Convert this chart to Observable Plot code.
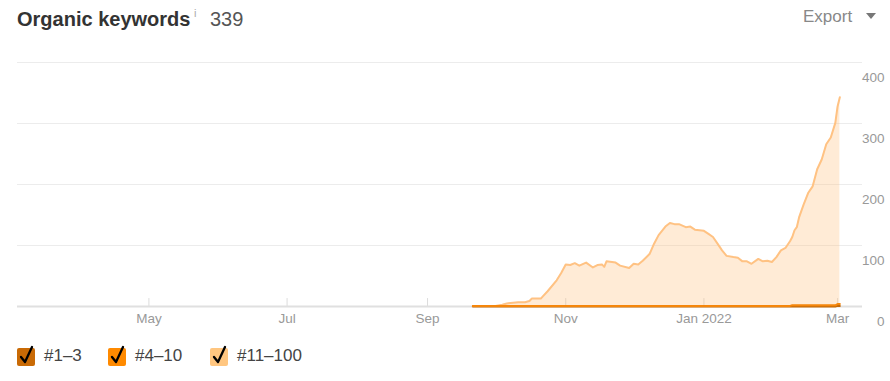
<!DOCTYPE html>
<html>
<head>
<meta charset="utf-8">
<script src="https://cdn.jsdelivr.net/npm/d3@7"></script>
<script src="https://cdn.jsdelivr.net/npm/@observablehq/plot@0.6"></script>
<style>
  html, body { margin: 0; padding: 0; background: #fff; width: 890px; height: 381px; overflow: hidden; }
  body { font-family: "Liberation Sans", Arial, sans-serif; position: relative; }
  .abs { position: absolute; white-space: nowrap; }
  #title { left: 17px; top: 9px; font-size: 20px; line-height: 20px; font-weight: bold; color: #333; }
  #info { left: 194px; top: 8px; font-size: 11px; line-height: 11px; color: #aaa; }
  #count { left: 210px; top: 9px; font-size: 20px; line-height: 20px; color: #555; }
  #export { left: 803px; top: 8px; font-size: 17px; line-height: 17px; color: #888; }
  #tri { left: 866px; top: 13px; width: 0; height: 0; border-left: 5px solid transparent; border-right: 5px solid transparent; border-top: 6px solid #777; }
  #chart { left: 0; top: 45px; }
  .box { position: absolute; width: 18px; height: 18px; border-radius: 2px; top: 348px; }
  .box svg { position: absolute; left: 0; top: -3px; overflow: visible; }
  .lab { position: absolute; top: 347px; font-size: 17px; line-height: 17px; color: #444; white-space: nowrap; }
</style>
</head>
<body>
<div id="title" class="abs">Organic keywords</div>
<div id="info" class="abs">i</div>
<div id="count" class="abs">339</div>
<div id="export" class="abs">Export</div>
<div id="tri" class="abs"></div>
<div id="chart" class="abs"></div>
<div id="legend"></div>
<script>
// ---- data ----
const seriesNames = ["#1–3", "#4–10", "#11–100"];
const lineColors = ["#c46a08", "#f5860b", "#ffc283"];
const legendColors = ["#c96a05", "#ff8a00", "#ffc680"];

const dates = [
  "2021-09-21","2021-10-01","2021-10-04","2021-10-06","2021-10-11","2021-10-14","2021-10-16","2021-10-17","2021-10-21","2021-10-22",
  "2021-10-24","2021-10-28","2021-10-30","2021-11-01","2021-11-03","2021-11-05","2021-11-07","2021-11-10","2021-11-13","2021-11-15",
  "2021-11-17","2021-11-18","2021-11-19","2021-11-23","2021-11-25","2021-11-29","2021-12-01","2021-12-03","2021-12-05","2021-12-08",
  "2021-12-10","2021-12-12","2021-12-15","2021-12-17","2021-12-19","2021-12-21","2021-12-24","2021-12-26","2021-12-28","2021-12-30",
  "2022-01-01","2022-01-03","2022-01-05","2022-01-07","2022-01-09","2022-01-11","2022-01-14","2022-01-16","2022-01-18","2022-01-20",
  "2022-01-22","2022-01-25","2022-01-27","2022-01-29","2022-01-31","2022-02-02","2022-02-04","2022-02-06","2022-02-08","2022-02-09",
  "2022-02-10","2022-02-11","2022-02-12","2022-02-14","2022-02-16","2022-02-18","2022-02-20","2022-02-22","2022-02-24","2022-02-26",
  "2022-02-28","2022-03-01","2022-03-02"
];
const pos11to100 = [
  0,0,2,4,6,6,8,12,12,16,
  24,42,54,68,67,70,66,71,63,67,
  68,64,73,71,66,62,69,68,74,85,
  102,116,130,136,134,134,129,130,125,124,
  123,118,113,102,91,82,80,79,73,73,
  69,77,73,74,72,80,91,95,106,112,
  123,128,144,165,184,195,223,239,264,275,
  299,324,339
];
const pos4to10 = [
  1,1,1,1,1,1,1,1,1,1,
  1,1,1,1,1,1,1,1,1,1,
  1,1,1,1,1,1,1,1,1,1,
  1,1,1,1,1,1,1,1,1,1,
  1,1,1,1,1,1,1,1,1,1,
  1,1,1,1,1,1,1,1,1,2,
  2,2,2,2,2,2,2,2,2,2,
  2,3,3
];
const pos1to3 = [
  0,0,0,0,0,0,0,0,0,0,
  0,0,0,0,0,0,0,0,0,0,
  0,0,0,0,0,0,0,0,0,0,
  0,0,0,0,0,0,0,0,0,0,
  0,0,0,0,0,0,0,0,0,0,
  0,0,0,0,0,0,0,0,0,0,
  0,0,0,0,0,0,0,0,0,0,
  0,1,1
];
const xTickDates = ["2021-05-01","2021-07-01","2021-09-01","2021-11-01","2022-01-01","2022-03-01"];
const xTickLabels = ["May","Jul","Sep","Nov","Jan 2022","Mar"];
const yTicks = [0, 100, 200, 300, 400];
const xDomain = ["2021-03-04", "2022-03-12"];

// ---- build table ----
const seriesValues = {"#1–3": pos1to3, "#4–10": pos4to10, "#11–100": pos11to100};
const drawOrder = ["#11–100", "#1–3", "#4–10"];
const rows = [];
for (const s of drawOrder) {
  dates.forEach((d, i) => rows.push({date: new Date(d), series: s, value: seriesValues[s][i]}));
}
const tickDates = xTickDates.map(d => new Date(d));

const chart = Plot.plot({
  width: 890,
  height: 295,
  marginTop: 17,
  marginBottom: 34,
  marginLeft: 17,
  marginRight: 28,
  style: {fontFamily: "'Liberation Sans', Arial, sans-serif", background: "transparent"},
  x: {type: "utc", domain: xDomain.map(d => new Date(d)), axis: null},
  y: {domain: [0, 400], axis: null},
  color: {domain: seriesNames, range: lineColors},
  marks: [
    Plot.ruleY(yTicks.filter(d => d > 0), {stroke: "#ececec", strokeWidth: 1}),
    Plot.ruleX(tickDates, {y1: 0, y2: 13, stroke: "#dcdcdc"}),
    Plot.areaY(rows, Plot.stackY({x: "date", y: "value", z: "series", fill: "series", fillOpacity: 0.33, order: seriesNames})),
    Plot.ruleY([0], {stroke: "#e0e0e0", strokeWidth: 2}),
    Plot.lineY(rows, Plot.stackY2({x: "date", y: "value", z: "series", stroke: "series", strokeWidth: 2, order: seriesNames})),
    Plot.text(tickDates, {x: d => d, text: (d, i) => xTickLabels[i], frameAnchor: "bottom", dy: 16, fill: "#999", fontSize: 13.5}),
    Plot.text(yTicks, {y: d => d, text: d => String(d), frameAnchor: "right", dx: 22, dy: 15.5, textAnchor: "end", fill: "#999", fontSize: 13.5})
  ]
});
document.getElementById("chart").appendChild(chart);

// ---- legend ----
const legend = document.getElementById("legend");
const boxX = [17, 108, 210];
const labX = [44, 135, 237];
seriesNames.forEach((s, i) => {
  const b = document.createElement("div");
  b.className = "box";
  b.style.left = boxX[i] + "px";
  b.style.background = legendColors[i];
  b.innerHTML = '<svg width="18" height="21" viewBox="0 0 18 21"><path d="M4 12 L8 17 L15 2" fill="none" stroke="#000" stroke-width="2.3" stroke-linecap="round" stroke-linejoin="round"/></svg>';
  legend.appendChild(b);
  const l = document.createElement("div");
  l.className = "lab";
  l.style.left = labX[i] + "px";
  l.textContent = s;
  legend.appendChild(l);
});
</script>
</body>
</html>
